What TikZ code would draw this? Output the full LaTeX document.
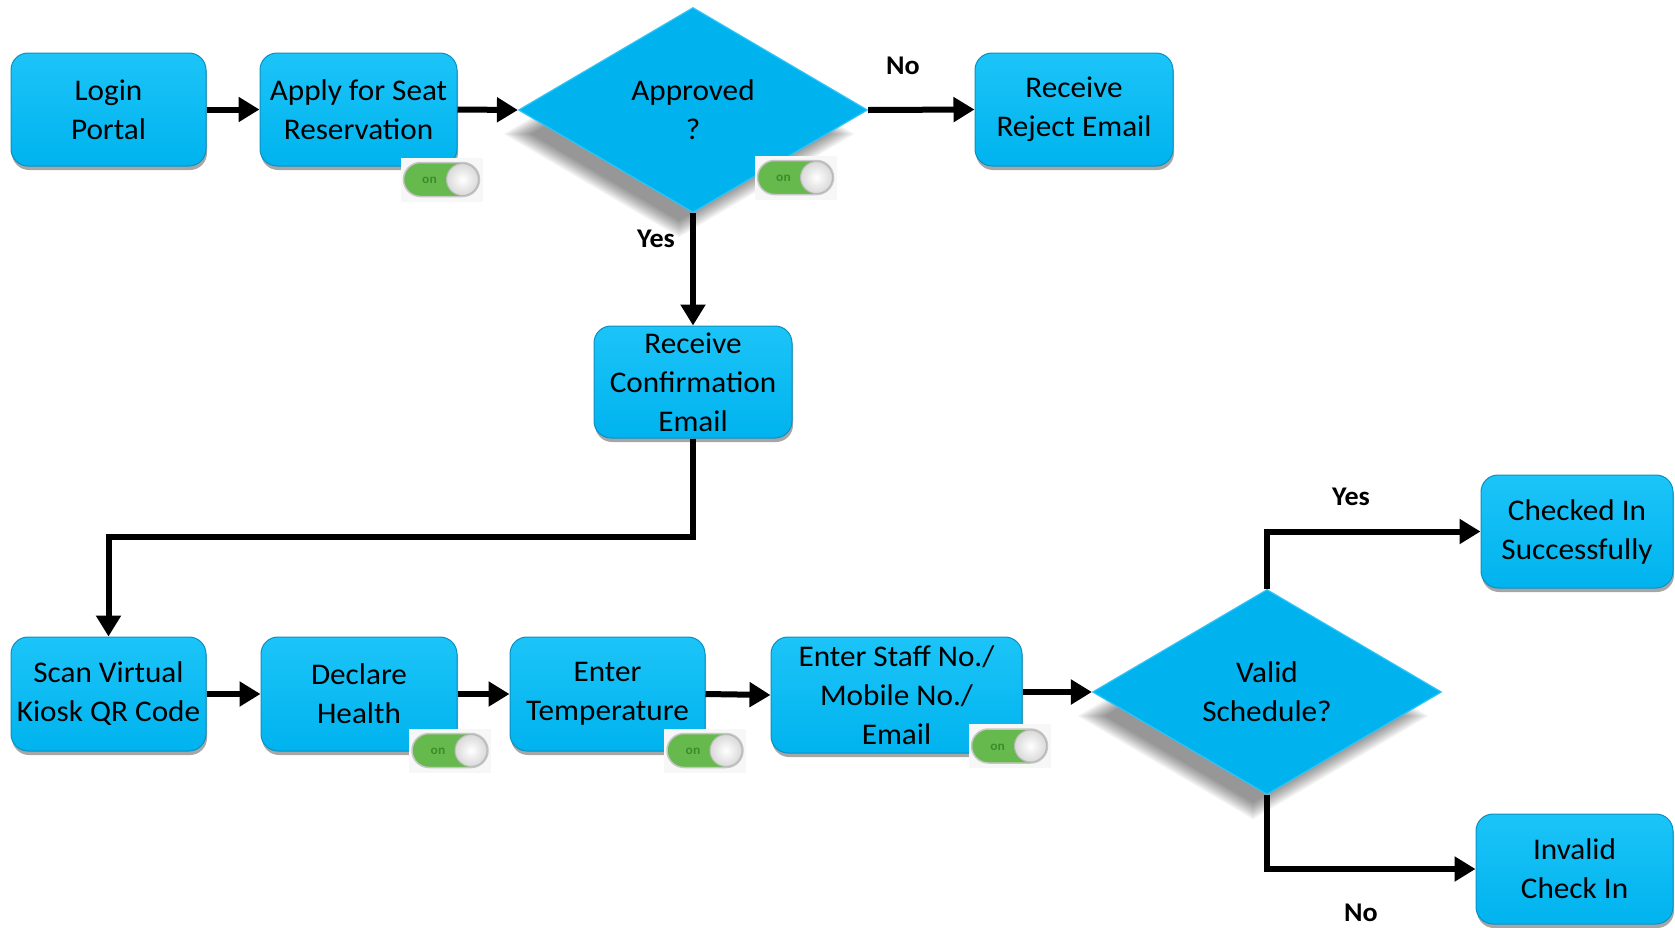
\documentclass[tikz,border=0pt]{standalone}
\usepackage{fontspec}
\setmainfont{Carlito}[FakeStretch=1.04]
\usetikzlibrary{shapes.geometric,arrows.meta,shadows,calc,backgrounds}
\definecolor{boxtop}{HTML}{1CC4F8}
\definecolor{boxbot}{HTML}{00B3EE}
\definecolor{boxedge}{HTML}{0A90C2}
\definecolor{diafill}{HTML}{00B2EE}
\definecolor{diaedge}{HTML}{2FC4F6}
\definecolor{tgreen}{HTML}{66B94C}
\definecolor{tongreen}{HTML}{3C8C2C}
\newcommand\mainsz{\fontsize{30}{39}\selectfont}
\tikzset{
  stepbox/.style={rounded corners=17pt, draw=boxedge, line width=1pt,
    top color=boxtop, bottom color=boxbot, align=center, font=\mainsz,
    inner sep=0pt,
    drop shadow={shadow xshift=1pt, shadow yshift=-4pt, opacity=0.35, fill=black}},
  decision/.style={diamond, aspect=1.7, fill=diafill, draw=diaedge, line width=1.2pt,
    inner sep=0pt, align=center, font=\mainsz,
    minimum width=349pt, minimum height=205pt},
  arr/.style={line width=6pt, -{Triangle[length=21pt,width=24pt]}},
  lbl/.style={font=\bfseries\fontsize{27}{30}\selectfont},
  toggle/.pic={
    \fill[white!94!gray] (-41,-22) rectangle (41,22);
    \draw[draw=gray!45, line width=1.5pt, fill=tgreen, rounded corners=17pt] (-38,-17) rectangle (38,17);
    \draw[gray!55, line width=1pt, inner color=white, outer color=gray!30] (21,0) circle[radius=16];
    \node[font=\bfseries\fontsize{13}{13}\selectfont, text=tongreen] (-on) at (-12,1) {on};
  }
}
\begin{document}
\begin{tikzpicture}[x=1pt,y=-1pt]
\path[use as bounding box] (0,0) rectangle (1675,927);

% top row
\node[stepbox, minimum width=195pt, minimum height=113pt] (login) at (108.5,109.5) {Login\\Portal};
\node[stepbox, minimum width=197pt, minimum height=113pt] (apply) at (358.5,109.5) {Apply for Seat\\Reservation};
\node[decision] (approved) at (693,110) {Approved\\?};
\node[stepbox, minimum width=198pt, minimum height=113pt] (reject) at (1074,109.5) {Receive\\Reject Email};
\node[stepbox, minimum width=198pt, minimum height=112pt] (confirm) at (693,382) {Receive\\Confirmation\\Email};

% bottom row
\node[stepbox, minimum width=195pt, minimum height=114pt] (scan) at (108.5,694) {Scan Virtual\\Kiosk QR Code};
\node[stepbox, minimum width=196pt, minimum height=114pt] (declare) at (359,694) {Declare\\Health};
\node[stepbox, minimum width=195pt, minimum height=114pt] (temp) at (607.5,694) {Enter\\Temperature};
\node[stepbox, minimum width=251pt, minimum height=116pt] (staff) at (896.5,695) {Enter Staff No./\\Mobile No./\\Email};
\node[decision] (valid) at (1267,692) {Valid\\Schedule?};
\node[stepbox, minimum width=192pt, minimum height=113pt] (checked) at (1577,531.5) {Checked In\\Successfully};
\node[stepbox, minimum width=197pt, minimum height=110pt] (invalid) at (1574.5,869) {Invalid\\Check In};

% soft shadows of the diamonds
\begin{scope}[on background layer]
\foreach \d in {0,3,...,27} {
  \foreach \n in {approved,valid} {
    \fill[black,opacity=0.05]
      ($(\n.west)+(-14+\d,24)$) -- ($(\n.north)+(-14,24+0.6*\d)$) --
      ($(\n.east)+(-14-\d,24)$) -- ($(\n.south)+(-14,24-0.6*\d)$) -- cycle;
  }
}
\end{scope}

% toggles
\pic (t1) at (441.5,179.5) {toggle};
\pic (t2) at (795.5,177.5) {toggle};
\pic (t3) at (450,750.5) {toggle};
\pic (t4) at (705,750.5) {toggle};
\pic (t5) at (1009.5,746) {toggle};

% connectors
\draw[arr] (login.east) -- (apply.west);
\draw[arr] (apply.east) -- (approved.west);
\draw[arr] (approved.east) -- (reject.west);
\draw[arr] (approved.south) -- (confirm.north);
\draw[arr] (confirm.south) -- ++(0,98) -| (scan.north);
\draw[arr] (scan.east) -- (declare.west);
\draw[arr] (declare.east) -- (temp.west);
\draw[arr] (temp.east) -- (staff.west);
\draw[arr] (staff.east |- valid.west) -- (valid.west);
\draw[arr] (valid.north) |- (checked.west);
\draw[arr] (valid.south) |- (invalid.west);

% labels
\node[lbl] (lno1) at (903,66) {No};
\node[lbl] (lyes1) at (656,239) {Yes};
\node[lbl] (lyes2) at (1351,497) {Yes};
\node[lbl] (lno2) at (1361,913) {No};
\end{tikzpicture}
\end{document}
